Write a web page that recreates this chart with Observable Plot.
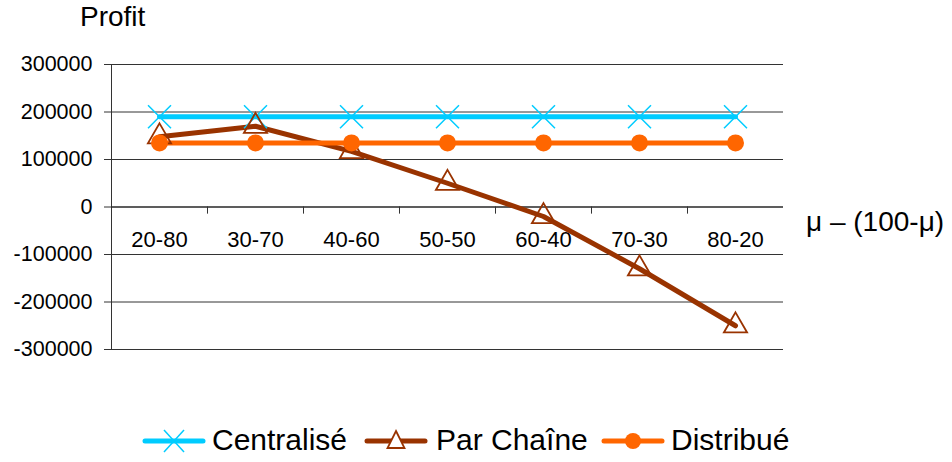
<!DOCTYPE html>
<html><head><meta charset="utf-8">
<script src="https://cdn.jsdelivr.net/npm/d3@7"></script>
<script src="https://cdn.jsdelivr.net/npm/@observablehq/plot@0.6"></script>
<style>
body{margin:0;background:#fff;font-family:"Liberation Sans",Arial,sans-serif;color:#000;}
#wrap{position:relative;width:952px;height:462px;overflow:hidden;}
#title{position:absolute;left:80px;top:1px;font-size:28px;}
#xlabel{position:absolute;left:806px;top:206px;font-size:28px;white-space:nowrap;}
.lg-text{position:absolute;top:423px;font-size:30px;white-space:nowrap;}
.lg-sw{position:absolute;top:427px;}
</style></head>
<body>
<div id="wrap">
<div id="chart"></div>
<div id="title">Profit</div>
<div id="xlabel">μ – (100-μ)</div>
<div id="legend"></div>
</div>
<script>
const categories = ["20-80","30-70","40-60","50-50","60-40","70-30","80-20"];
const seriesNames = ["Centralisé","Par Chaîne","Distribué"];
const centralise = [190000,190000,190000,190000,190000,190000,190000];
const parChaine = [148000,170000,117000,50000,-20000,-130000,-250000];
const distribue = [135000,135000,135000,135000,135000,135000,135000];
const yTicks = [-300000,-200000,-100000,0,100000,200000,300000];
const colors = ["#00CCFF","#993300","#FF6600"];

const valuesBySeries = [centralise, parChaine, distribue];
const rows = [];
seriesNames.forEach((s, i) => categories.forEach((c, j) => rows.push({series: s, cat: c, value: valuesBySeries[i][j]})));
const bySeries = s => rows.filter(r => r.series === s);

const W = 952, ML = 111, MR = 169;
const step = (W - ML - MR) / categories.length;

const chart = Plot.plot({
  width: W, height: 410,
  marginLeft: ML, marginRight: MR, marginTop: 64, marginBottom: 61,
  style: {fontFamily: '"Liberation Sans", Arial, sans-serif', fontSize: "21.5px", color: "#000", background: "#fff"},
  x: {type: "point", domain: categories, padding: 0.5, axis: null},
  y: {domain: [-300000, 300000], axis: null},
  color: {domain: seriesNames, range: colors},
  marks: [
    Plot.gridY(yTicks, {stroke: "#333", strokeOpacity: 1, strokeWidth: 1}),
    Plot.axisY({ticks: yTicks, tickSize: 7, tickPadding: 12, tickFormat: d => String(d), label: null, fontSize: 21.5, stroke: "#333"}),
    Plot.ruleX([categories[0]], {y1: -300000, y2: 300000, dx: -step / 2, stroke: "#333"}),
    Plot.ruleY([0], {stroke: "#222", strokeWidth: 1.2}),
    Plot.ruleX(categories.slice(1), {y1: 0, y2: -15000, dx: -step / 2, stroke: "#333"}),
    Plot.text(categories, {x: d => d, y: () => 0, dy: 33, fontSize: 22, fill: "#000"}),
    Plot.line(rows, {x: "cat", y: "value", z: "series", stroke: "series", strokeWidth: 5, strokeLinecap: "round", strokeLinejoin: "round"}),
    Plot.dot(bySeries("Centralisé"), {x: "cat", y: "value", symbol: "times", r: 10.5, stroke: colors[0], strokeWidth: 1.5}),
    Plot.dot(bySeries("Par Chaîne"), {x: "cat", y: "value", symbol: "triangle", r: 8.6, stroke: colors[1], fill: "none", strokeWidth: 1.8}),
    Plot.dot(bySeries("Distribué"), {x: "cat", y: "value", symbol: "circle", r: 8.5, fill: colors[2], stroke: "none"})
  ]
});
document.getElementById("chart").appendChild(chart);

// legend
const legend = document.getElementById("legend");
const swatchLeft = [141, 363, 600];
const textLeft = [212, 436, 671];
const markerSvg = [
  c => `<line x1="-10" y1="-11" x2="10" y2="11" stroke="${c}" stroke-width="1.5"/><line x1="-10" y1="11" x2="10" y2="-11" stroke="${c}" stroke-width="1.5"/>`,
  c => `<path d="M0,-10L8.5,7L-8.5,7Z" fill="#fff" stroke="${c}" stroke-width="1.8"/>`,
  c => `<circle r="8" fill="${c}"/>`
];
seriesNames.forEach((s, i) => {
  const sw = document.createElement("div");
  sw.className = "lg-sw";
  sw.style.left = swatchLeft[i] + "px";
  sw.innerHTML = `<svg width="66" height="28" viewBox="0 0 66 28" style="display:block"><line x1="4" y1="14" x2="62" y2="14" stroke="${colors[i]}" stroke-width="5" stroke-linecap="round"/><g transform="translate(33,14)">${markerSvg[i](colors[i])}</g></svg>`;
  legend.appendChild(sw);
  const tx = document.createElement("div");
  tx.className = "lg-text";
  tx.style.left = textLeft[i] + "px";
  tx.textContent = s;
  legend.appendChild(tx);
});
</script>
</body></html>
